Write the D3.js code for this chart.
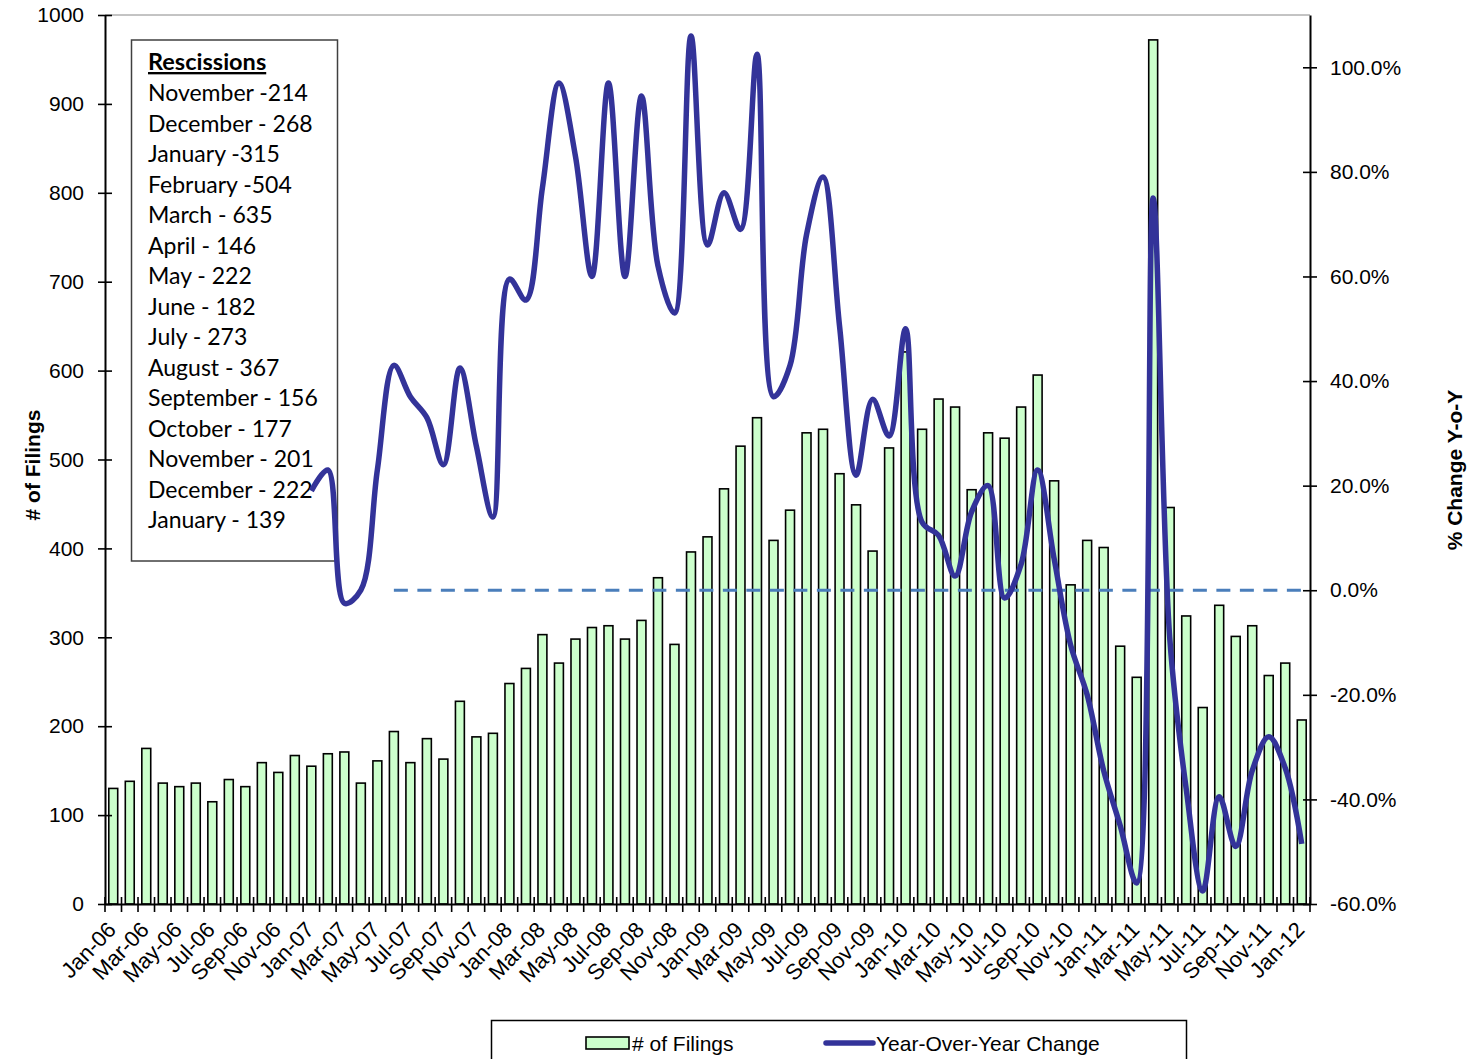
<!DOCTYPE html>
<html>
<head>
<meta charset="utf-8">
<script src="https://d3js.org/d3.v7.min.js"></script>
<style>
  html, body { margin: 0; padding: 0; background: #fff; }
  svg { display: block; }
  text { font-family: "Liberation Sans", Arial, sans-serif; fill: #000; }
</style>
</head>
<body>
<svg id="chart" width="1473" height="1059"></svg>
<script>
// ---------------- DATA ----------------
const categories = [
  "Jan-06","Feb-06","Mar-06","Apr-06","May-06","Jun-06","Jul-06","Aug-06","Sep-06","Oct-06","Nov-06","Dec-06",
  "Jan-07","Feb-07","Mar-07","Apr-07","May-07","Jun-07","Jul-07","Aug-07","Sep-07","Oct-07","Nov-07","Dec-07",
  "Jan-08","Feb-08","Mar-08","Apr-08","May-08","Jun-08","Jul-08","Aug-08","Sep-08","Oct-08","Nov-08","Dec-08",
  "Jan-09","Feb-09","Mar-09","Apr-09","May-09","Jun-09","Jul-09","Aug-09","Sep-09","Oct-09","Nov-09","Dec-09",
  "Jan-10","Feb-10","Mar-10","Apr-10","May-10","Jun-10","Jul-10","Aug-10","Sep-10","Oct-10","Nov-10","Dec-10",
  "Jan-11","Feb-11","Mar-11","Apr-11","May-11","Jun-11","Jul-11","Aug-11","Sep-11","Oct-11","Nov-11","Dec-11",
  "Jan-12"
];

const filings = [
  130, 138, 175, 136, 132, 136, 115, 140, 132, 159, 148, 167,
  155, 169, 171, 136, 161, 194, 159, 186, 163, 228, 188, 192,
  248, 265, 303, 271, 298, 311, 313, 298, 319, 367, 292, 396,
  413, 467, 515, 547, 409, 443, 530, 534, 484, 449, 397, 513,
  621, 534, 568, 559, 466, 530, 524, 559, 595, 476, 359, 409,
  401, 290, 255, 972, 446, 324, 221, 336, 301, 313, 257, 271,
  207
];

// Year-over-year change (%) from Jan-07 to Jan-12
const yoyCategories = categories.slice(12);
const yoyChange = [
  19, 23, -2.5, 0, 23, 43, 37, 33, 24, 42.5, 27.5, 14,
  59.5, 55.5, 77, 97, 83, 60, 97, 60, 94.5, 62, 53, 106,
  66, 76, 69, 102.5, 37, 43, 68, 79, 50.5, 22, 36.5, 29.5,
  50, 13, 10.5, 2.7, 15, 20, -1.5, 5, 23, 6, -10.5, -20,
  -34.5, -45, -56, 75, -9, -38, -57.5, -39.5, -49, -34.5, -28, -34,
  -48.5
];

const zeroLineCategories = ["Jun-07", "Jan-12"];
const zeroLineValues = [0, 0];

const leftTicks = [0, 100, 200, 300, 400, 500, 600, 700, 800, 900, 1000];
const rightTicks = [-60, -40, -20, 0, 20, 40, 60, 80, 100];
const xLabelCategories = categories.filter((c, i) => i % 2 === 0);

const rescissionsTitle = "Rescissions";
const rescissions = [
  "November -214", "December - 268", "January -315", "February -504", "March - 635",
  "April - 146", "May - 222", "June - 182", "July - 273", "August - 367",
  "September - 156", "October - 177", "November - 201", "December - 222", "January - 139"
];

const leftTitle = "# of Filings";
const rightTitle = "% Change Y-o-Y";
const legendItems = ["# of Filings", "Year-Over-Year Change"];

// ---------------- LAYOUT ----------------
const svg = d3.select("#chart");
const plot = { left: 105, right: 1310, top: 15, bottom: 904 };

const x = d3.scaleBand().domain(categories).range([plot.left, plot.right]).paddingInner(0).paddingOuter(0);
const yL = d3.scaleLinear().domain([0, 1000]).range([plot.bottom, plot.top]);
const yR = d3.scaleLinear().domain([-60, 110]).range([plot.bottom, plot.top]);
const cx = c => x(c) + x.bandwidth() / 2;

const barColor = "#CCFFCC";
const lineColor = "#333399";
const zeroColor = "#4A7EBB";

// top border of plot area
svg.append("line")
  .attr("x1", plot.left).attr("x2", plot.right)
  .attr("y1", plot.top).attr("y2", plot.top)
  .attr("stroke", "#888").attr("stroke-width", 1);

// bars
const barW = x.bandwidth() * 0.54;
svg.append("g").selectAll("rect").data(categories).join("rect")
  .attr("x", (c) => cx(c) - barW / 2)
  .attr("y", (c, i) => yL(filings[i]))
  .attr("width", barW)
  .attr("height", (c, i) => yL(0) - yL(filings[i]))
  .attr("fill", barColor)
  .attr("stroke", "#000")
  .attr("stroke-width", 1.6);

// left axis
const gL = svg.append("g").attr("transform", `translate(${plot.left},0)`)
  .call(d3.axisLeft(yL).tickValues(leftTicks).tickFormat(d3.format("d"))
    .tickSizeInner(7).tickSizeOuter(0).tickPadding(14));
gL.select(".domain").attr("stroke", "#000").attr("stroke-width", 2);
gL.selectAll(".tick line").attr("x1", 7).attr("stroke", "#000").attr("stroke-width", 1.6);
gL.selectAll(".tick text").attr("font-size", 21).attr("font-family", "'Liberation Sans', Arial, sans-serif");

// right axis
const gR = svg.append("g").attr("transform", `translate(${plot.right},0)`)
  .call(d3.axisRight(yR).tickValues(rightTicks).tickFormat(d => d.toFixed(1) + "%")
    .tickSizeInner(7).tickSizeOuter(0).tickPadding(13));
gR.select(".domain").attr("stroke", "#000").attr("stroke-width", 2);
gR.selectAll(".tick line").attr("x1", -7).attr("stroke", "#000").attr("stroke-width", 1.6);
gR.selectAll(".tick text").attr("font-size", 21).attr("font-family", "'Liberation Sans', Arial, sans-serif");

// bottom axis
const gB = svg.append("g").attr("transform", `translate(0,${plot.bottom})`)
  .call(d3.axisBottom(x).tickValues([]).tickSizeOuter(0));
gB.select(".domain").attr("stroke", "#000").attr("stroke-width", 2);
// category boundary ticks
const boundaries = d3.range(categories.length + 1).map(i => plot.left + i * x.step());
gB.selectAll("line.bt").data(boundaries).join("line").attr("class", "bt")
  .attr("x1", d => d).attr("x2", d => d)
  .attr("y1", -7).attr("y2", 8)
  .attr("stroke", "#000").attr("stroke-width", 1.6);

// x labels
svg.append("g").selectAll("text").data(xLabelCategories).join("text")
  .attr("transform", c => `translate(${cx(c) + 4},${plot.bottom + 27}) rotate(-46)`)
  .attr("text-anchor", "end")
  .attr("font-size", 22)
  .text(c => c);

// axis titles
svg.append("text")
  .attr("transform", `translate(40,465) rotate(-90)`)
  .attr("text-anchor", "middle")
  .attr("font-size", 21).attr("font-weight", "bold")
  .text(leftTitle);
svg.append("text")
  .attr("transform", `translate(1462,470) rotate(-90)`)
  .attr("text-anchor", "middle")
  .attr("font-size", 21).attr("font-weight", "bold")
  .text(rightTitle);

// rescissions box
const box = svg.append("g");
box.append("rect")
  .attr("x", 131.5).attr("y", 40).attr("width", 206).attr("height", 521)
  .attr("fill", "#fff").attr("stroke", "#404040").attr("stroke-width", 1.5);
box.append("text")
  .attr("x", 148).attr("y", 70)
  .attr("font-size", 23.5).attr("font-weight", "bold")
  .attr("text-decoration", "underline")
  .style("font-family", "Lato, 'Open Sans', sans-serif")
  .text(rescissionsTitle);
box.selectAll("text.r").data(rescissions).join("text").attr("class", "r")
  .attr("x", 148)
  .attr("y", (d, i) => 101 + i * 30.5)
  .attr("font-size", 23)
  .style("font-family", "Lato, 'Open Sans', sans-serif")
  .text(d => d);

// zero dashed line
const zeroLine = d3.line().x(c => cx(c)).y((c, i) => yR(zeroLineValues[i]));
svg.append("path")
  .attr("d", zeroLine(zeroLineCategories))
  .attr("fill", "none").attr("stroke", zeroColor)
  .attr("stroke-width", 3.2).attr("stroke-dasharray", "14,9.5");

// YoY line
const yoyLine = d3.line()
  .x(c => cx(c))
  .y((c, i) => yR(yoyChange[i]))
  .curve(d3.curveCatmullRom.alpha(0.5));
svg.append("path")
  .attr("d", yoyLine(yoyCategories))
  .attr("fill", "none").attr("stroke", lineColor)
  .attr("stroke-width", 5.5).attr("stroke-linejoin", "round").attr("stroke-linecap", "butt");

// legend
const lg = svg.append("g");
lg.append("rect")
  .attr("x", 491.5).attr("y", 1020.5).attr("width", 695).attr("height", 60)
  .attr("fill", "#fff").attr("stroke", "#000").attr("stroke-width", 1.5);
lg.append("rect")
  .attr("x", 586).attr("y", 1037).attr("width", 43).attr("height", 12)
  .attr("fill", barColor).attr("stroke", "#000").attr("stroke-width", 1.6);
lg.append("text").attr("x", 632).attr("y", 1051).attr("font-size", 21).text(legendItems[0]);
lg.append("line")
  .attr("x1", 826).attr("x2", 873).attr("y1", 1043).attr("y2", 1043)
  .attr("stroke", lineColor).attr("stroke-width", 5.5).attr("stroke-linecap", "round");
lg.append("text").attr("x", 876).attr("y", 1051).attr("font-size", 21).text(legendItems[1]);
</script>
</body>
</html>
